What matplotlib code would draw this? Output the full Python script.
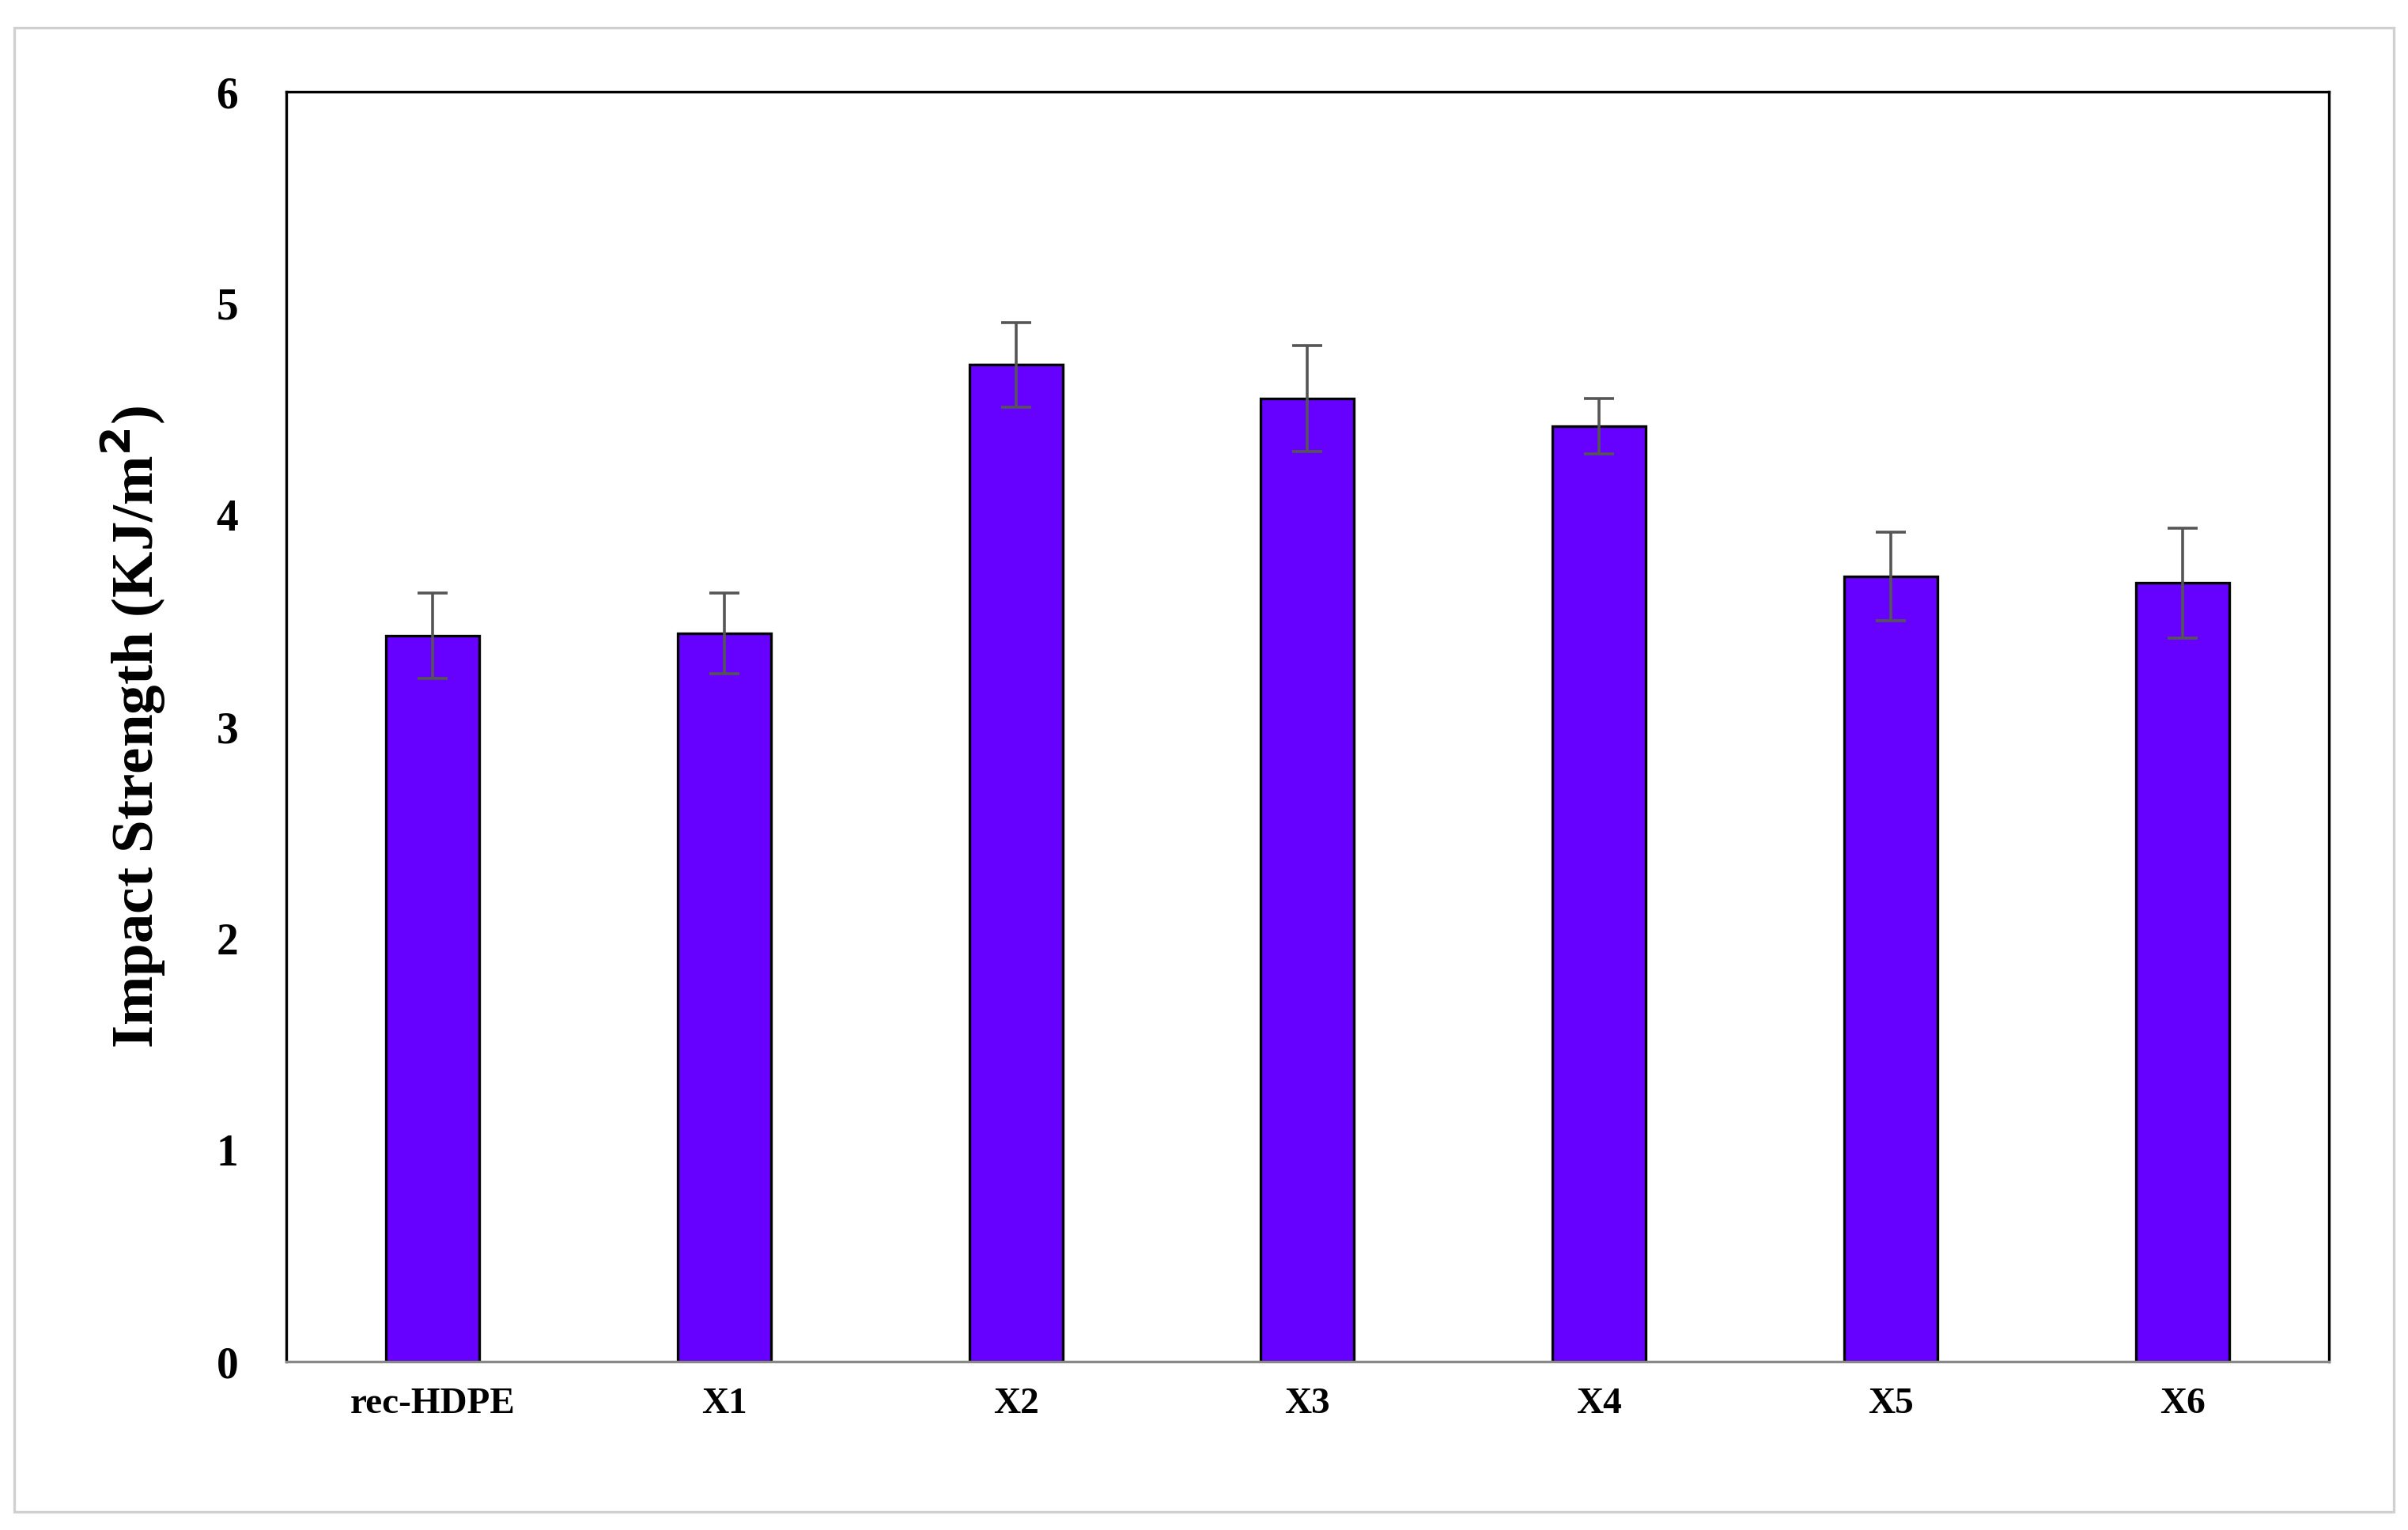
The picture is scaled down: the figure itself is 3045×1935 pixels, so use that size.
import matplotlib
matplotlib.use("Agg")
import matplotlib.pyplot as plt
from matplotlib.patches import Rectangle

categories = ["rec-HDPE", "X1", "X2", "X3", "X4", "X5", "X6"]
values = [3.43, 3.44, 4.71, 4.55, 4.42, 3.71, 3.68]
errors = [0.20, 0.19, 0.20, 0.25, 0.13, 0.21, 0.26]

plt.rcParams['font.family'] = ['Liberation Serif', 'DejaVu Serif']
plt.rcParams['font.weight'] = 'bold'

fig = plt.figure(figsize=(15.225, 9.675), dpi=200)
fig.patches.append(Rectangle((0.006, 0.012), 0.988, 0.97, transform=fig.transFigure,
                             fill=False, edgecolor='#d0d0d0', linewidth=1.2))
ax = fig.add_axes([0.119, 0.11, 0.848, 0.83])
x = range(len(categories))
ax.bar(x, values, width=0.32, color='#6600FF', edgecolor='black', linewidth=1.2, zorder=2)
ax.errorbar(x, values, yerr=errors, fmt='none', ecolor='#555555', elinewidth=1.3,
            capsize=7, capthick=1.3, zorder=3)
ax.set_ylim(0, 6)
ax.set_xlim(-0.5, 6.5)
ax.set_yticks(range(0, 7))
ax.set_xticks(list(x))
ax.set_xticklabels(categories)
ax.tick_params(axis='both', length=0, labelsize=17, pad=12)
ax.tick_params(axis='y', labelsize=20, pad=22)
for lab in ax.get_xticklabels() + ax.get_yticklabels():
    lab.set_fontweight('bold')
for s in ax.spines.values():
    s.set_linewidth(1.2)
ax.spines['bottom'].set_color('#888888')
ax.set_ylabel("Impact Strength (KJ/m$^\\mathbf{2}$)", fontsize=27, fontweight='bold', labelpad=22)
fig.savefig("out.png", dpi=200)
